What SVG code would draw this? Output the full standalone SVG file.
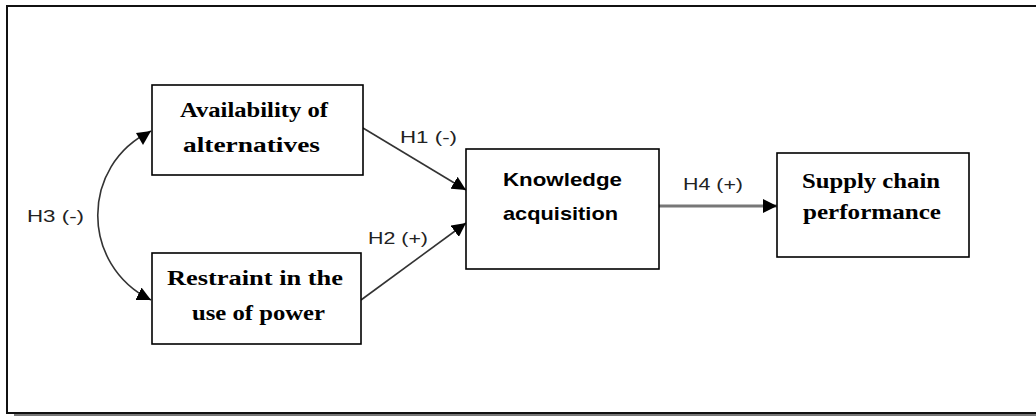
<svg xmlns="http://www.w3.org/2000/svg" width="1036" height="419" viewBox="0 0 1036 419">
<style>
.box{fill:#fff;stroke:#000;stroke-width:1.6}
.st{font-family:"Liberation Serif","Times New Roman",serif;font-weight:bold;font-size:20px;fill:#000}
.ss{font-family:"Liberation Sans",Arial,sans-serif;font-weight:bold;font-size:19px;fill:#000}
.lb{font-family:"Liberation Sans",Arial,sans-serif;font-size:17px;fill:#222}
.cn{fill:none;stroke:#333;stroke-width:1.6}
</style>
<defs>
<marker id="ah2" viewBox="0 0 10 10" refX="10" refY="5" markerWidth="14" markerHeight="14" markerUnits="userSpaceOnUse" orient="auto">
<path d="M0,0 L10,5 L0,10 Z" fill="#000"/>
</marker>
</defs>
<rect x="0" y="0" width="1036" height="419" fill="#fff"/>
<g id="frame">
<line x1="14" y1="415" x2="1036" y2="415" stroke="#777" stroke-width="2"/>
<rect x="7" y="6" width="1040" height="407" fill="none" stroke="#111" stroke-width="2"/>
</g>
<g id="connectors">
<path class="cn" d="M363,128 L466,190" marker-end="url(#ah2)"/>
<path class="cn" d="M361,300 L466,223" marker-end="url(#ah2)"/>
<path d="M659,206 L777,206" fill="none" stroke="#777" stroke-width="3" marker-end="url(#ah2)"/>
<path class="cn" d="M151,131 C80,165 80,265 151,300" marker-end="url(#ah2)"/>
<path d="M151,131 L136,133 L143,145 Z" fill="#000"/>
</g>
<g id="labels">
<text class="lb" x="400" y="143" textLength="57" lengthAdjust="spacingAndGlyphs">H1 (-)</text>
<text class="lb" x="368" y="244" textLength="60" lengthAdjust="spacingAndGlyphs">H2 (+)</text>
<text class="lb" x="27" y="222" textLength="57" lengthAdjust="spacingAndGlyphs">H3 (-)</text>
<text class="lb" x="683" y="190" textLength="60" lengthAdjust="spacingAndGlyphs">H4 (+)</text>
</g>
<g id="node-availability">
<rect class="box" x="152" y="85" width="211" height="90"/>
<text class="st" x="180" y="117" textLength="148" lengthAdjust="spacingAndGlyphs">Availability of</text>
<text class="st" x="183" y="152" textLength="137" lengthAdjust="spacingAndGlyphs">alternatives</text>
</g>
<g id="node-restraint">
<rect class="box" x="152" y="253" width="209" height="91"/>
<text class="st" x="167" y="285" textLength="176" lengthAdjust="spacingAndGlyphs">Restraint in  the</text>
<text class="st" x="192" y="320" textLength="133" lengthAdjust="spacingAndGlyphs">use of power</text>
</g>
<g id="node-knowledge">
<rect class="box" x="466" y="149" width="193" height="120"/>
<text class="ss" x="503" y="186" textLength="119" lengthAdjust="spacingAndGlyphs">Knowledge</text>
<text class="ss" x="503" y="220" textLength="115" lengthAdjust="spacingAndGlyphs">acquisition</text>
</g>
<g id="node-supply">
<rect class="box" x="777" y="153" width="192" height="104"/>
<text class="st" x="802" y="188" textLength="138" lengthAdjust="spacingAndGlyphs">Supply chain</text>
<text class="st" x="803" y="219" textLength="138" lengthAdjust="spacingAndGlyphs">performance</text>
</g>
</svg>
